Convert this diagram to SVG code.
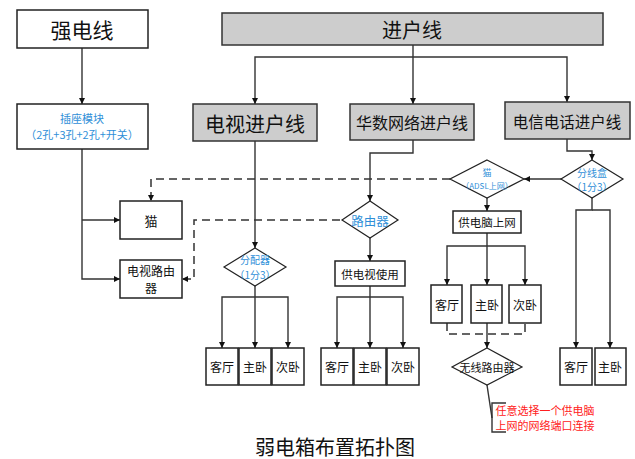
<svg xmlns="http://www.w3.org/2000/svg" width="635" height="459" viewBox="0 0 635 459">
<style>
text{font-family:"Noto Sans CJK SC","Liberation Serif",serif;text-anchor:middle;dominant-baseline:central;fill:#111}
.box{fill:#fff;stroke:#222;stroke-width:1.5}
.gray{fill:#cdcdcd;stroke:#333;stroke-width:1.5}
.dia{fill:#fff;stroke:#222;stroke-width:1.2}
.blue{fill:#2f8fd8}
.red{fill:#ff2020}
.ln{fill:none;stroke:#333;stroke-width:1.4}
.dash{fill:none;stroke:#333;stroke-width:1.5;stroke-dasharray:8,5}
</style>
<defs>
<marker id="ah" markerWidth="6" markerHeight="6" refX="6" refY="3" orient="auto" markerUnits="userSpaceOnUse">
<path d="M0,0 L6,3 L0,6 Z" fill="#111"/>
</marker>
</defs>
<rect width="635" height="459" fill="#fff"/>
<g id="connectors">
<path class="ln" d="M82,48 V104" marker-end="url(#ah)"/>
<path class="ln" d="M82,149 V279 H120" marker-end="url(#ah)"/>
<path class="ln" d="M82,220 H120" marker-end="url(#ah)"/>
<path class="ln" d="M413,45 V104" marker-end="url(#ah)"/>
<path class="ln" d="M413,57 H255 V104" marker-end="url(#ah)"/>
<path class="ln" d="M413,57 H567 V102" marker-end="url(#ah)"/>
<path class="ln" d="M255,141 V248" marker-end="url(#ah)"/>
<path class="ln" d="M255,286 V348" marker-end="url(#ah)"/>
<path class="ln" d="M255,297 H222 V348" marker-end="url(#ah)"/>
<path class="ln" d="M255,297 H288 V348" marker-end="url(#ah)"/>
<path class="ln" d="M413,140 V153 H370 V201" marker-end="url(#ah)"/>
<path class="ln" d="M370,238 V261" marker-end="url(#ah)"/>
<path class="ln" d="M370,286 V348" marker-end="url(#ah)"/>
<path class="ln" d="M370,297 H337 V348" marker-end="url(#ah)"/>
<path class="ln" d="M370,297 H403 V348" marker-end="url(#ah)"/>
<path class="ln" d="M567,139 V151 H592 V160" marker-end="url(#ah)"/>
<path class="ln" d="M562,179 H524" marker-end="url(#ah)"/>
<path class="ln" d="M592,198 V210 H576 V348" marker-end="url(#ah)"/>
<path class="ln" d="M592,210 H610 V348" marker-end="url(#ah)"/>
<path class="ln" d="M487,198 V211" marker-end="url(#ah)"/>
<path class="ln" d="M487,233 V285" marker-end="url(#ah)"/>
<path class="ln" d="M487,246 H447 V285" marker-end="url(#ah)"/>
<path class="ln" d="M487,246 H525 V285" marker-end="url(#ah)"/>
<path class="ln" d="M487,323 V348" marker-end="url(#ah)"/>
<path class="dash" d="M447,323 V334 H525 V323"/>
<path class="dash" d="M450,179 H151 V201" marker-end="url(#ah)"/>
<path class="dash" d="M340,220 H194 V279 H182" marker-end="url(#ah)"/>
<path class="ln" d="M487,385 L492,418"/>
<path class="ln" d="M506,403 H492 V432 H506"/>
</g>
<g id="qiangdianxian"><rect class="box" x="17" y="10" width="131" height="38"/><text x="82" y="29" font-size="21">强电线</text></g>
<g id="jinhuxian"><rect class="gray" x="222" y="13" width="381" height="32"/><text x="412" y="29" font-size="20">进户线</text></g>
<g id="chazuo"><rect class="box" x="17" y="104" width="131" height="45"/><text class="blue" x="82" y="118" font-size="11">插座模块</text><text class="blue" x="82" y="134" font-size="11">（2孔+3孔+2孔+开关）</text></g>
<g id="dianshijinhu"><rect class="gray" x="193" y="104" width="124" height="37"/><text x="255" y="123" font-size="20">电视进户线</text></g>
<g id="huashu"><rect class="gray" x="350" y="104" width="124" height="36"/><text x="412" y="122" font-size="16">华数网络进户线</text></g>
<g id="dianxin"><rect class="gray" x="505" y="102" width="125" height="37"/><text x="567" y="121" font-size="15.5">电信电话进户线</text></g>
<g id="mao-box"><rect class="box" x="120" y="201" width="62" height="38"/><text x="151" y="220" font-size="13">猫</text></g>
<g id="tvrouter"><rect class="box" x="120" y="260" width="62" height="38"/><text x="151" y="270" font-size="12">电视路由</text><text x="151" y="287" font-size="12">器</text></g>
<g id="fenpeiqi"><polygon class="dia" points="255,248 286,267 255,286 224,267"/><text class="blue" x="255" y="259.5" font-size="10">分配器</text><text class="blue" x="255" y="274" font-size="10">（1分3）</text></g>
<g id="luyouqi"><polygon class="dia" points="370,201 398,220 370,238 342,220"/><text class="blue" x="370" y="220" font-size="12.5">路由器</text></g>
<g id="gongdianshi"><rect class="box" x="335" y="261" width="70" height="25"/><text x="370" y="274" font-size="11.5">供电视使用</text></g>
<g id="mao-adsl"><polygon class="dia" points="487,160 524,179 487,198 450,179"/><text class="blue" x="487" y="172" font-size="9">猫</text><text class="blue" x="487" y="185" font-size="8">（ADSL上网）</text></g>
<g id="fenxianhe"><polygon class="dia" points="592,160 623,179 592,198 561,179"/><text class="blue" x="592" y="172" font-size="10">分线盒</text><text class="blue" x="592" y="186.5" font-size="10">（1分3）</text></g>
<g id="gongdiannao"><rect class="box" x="453" y="211" width="68" height="22"/><text x="487" y="222" font-size="11.5">供电脑上网</text></g>
<g id="tv-keting"><rect class="box" x="206" y="348" width="32" height="37"/><text x="222" y="366" font-size="12">客厅</text></g>
<g id="tv-zhuwo"><rect class="box" x="239" y="348" width="32" height="37"/><text x="255" y="366" font-size="12">主卧</text></g>
<g id="tv-ciwo"><rect class="box" x="272" y="348" width="32" height="37"/><text x="288" y="366" font-size="12">次卧</text></g>
<g id="hs-keting"><rect class="box" x="321" y="348" width="32" height="37"/><text x="337" y="366" font-size="12">客厅</text></g>
<g id="hs-zhuwo"><rect class="box" x="354" y="348" width="32" height="37"/><text x="370" y="366" font-size="12">主卧</text></g>
<g id="hs-ciwo"><rect class="box" x="387" y="348" width="32" height="37"/><text x="403" y="366" font-size="12">次卧</text></g>
<g id="pc-keting"><rect class="box" x="431" y="285" width="31" height="38"/><text x="447" y="304" font-size="12">客厅</text></g>
<g id="pc-zhuwo"><rect class="box" x="471" y="285" width="31" height="38"/><text x="487" y="304" font-size="12">主卧</text></g>
<g id="pc-ciwo"><rect class="box" x="509" y="285" width="32" height="38"/><text x="525" y="304" font-size="12">次卧</text></g>
<g id="wuxian"><polygon class="dia" points="487,348 522,367 487,385 452,367"/><text x="487" y="367" font-size="11">无线路由器</text></g>
<g id="note"><text class="red" x="545" y="410" font-size="11">任意选择一个供电脑</text><text class="red" x="545" y="425" font-size="11">上网的网络端口连接</text></g>
<g id="tel-keting"><rect class="box" x="560" y="348" width="32" height="37"/><text x="576" y="366" font-size="12">客厅</text></g>
<g id="tel-zhuwo"><rect class="box" x="595" y="348" width="31" height="37"/><text x="610" y="366" font-size="12">主卧</text></g>
<text x="335" y="446" font-size="20">弱电箱布置拓扑图</text>
</svg>
